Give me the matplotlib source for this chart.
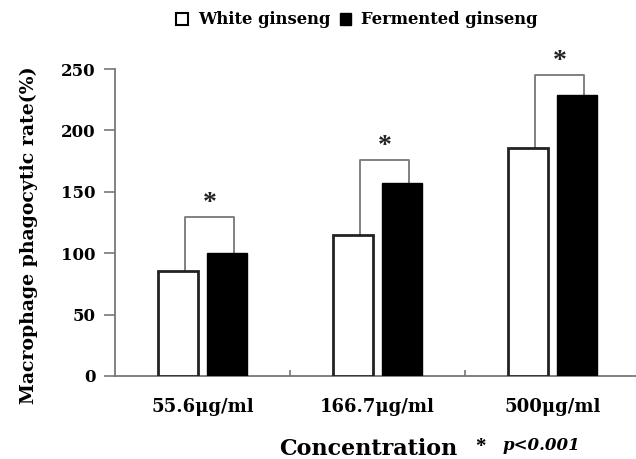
import matplotlib
matplotlib.use("Agg")
import matplotlib.pyplot as plt
from matplotlib.patches import Patch
import numpy as np

categories = ["55.6\u03bcg/ml", "166.7\u03bcg/ml", "500\u03bcg/ml"]
white = [85.7, 114.6, 185.4]
fermented = [100.4, 157.4, 228.8]
bracket_tops = [129.2, 175.9, 244.9]
series_names = ["White ginseng", "Fermented ginseng"]
yticks = [0, 50, 100, 150, 200, 250]

plt.rcParams['font.family'] = ['DejaVu Serif', 'Liberation Serif']
plt.rcParams['font.weight'] = 'bold'

fig = plt.figure(figsize=(6.36, 4.59), dpi=100)
ax = fig.add_axes([115/636, (459-376)/459, (636-115)/636, (376-69)/459])

x = np.arange(len(categories))
off = 0.142
w = 0.228
ax.bar(x - off, white, width=w, facecolor='white', edgecolor='#222222', linewidth=2.0, zorder=3)
ax.bar(x + off, fermented, width=w, facecolor='black', edgecolor='black', linewidth=1.0, zorder=3)

bo = 0.04
for i in range(len(categories)):
    xl = x[i] - off + bo
    xr = x[i] + off + bo
    ax.plot([xl, xl, xr, xr], [white[i], bracket_tops[i], bracket_tops[i], fermented[i]],
            color='#777777', linewidth=1.3, zorder=2, clip_on=False)
    ax.text(x[i] + bo, bracket_tops[i] + 1, '*', ha='center', va='bottom',
            fontsize=20, fontweight='bold', color='#222222', family='Liberation Serif')

ax.set_xlim(-0.5, 2.5 - 4/175)
ax.set_ylim(0, 250)
ax.set_yticks(yticks)
ax.set_yticklabels([str(v) for v in yticks], fontsize=12, fontweight='bold')
ax.set_xticks(x)
ax.set_xticklabels(categories, fontsize=13, fontweight='bold')
ax.set_xticks([0.5, 1.5], minor=True)
ax.tick_params(axis='x', which='major', length=0, pad=16)
ax.tick_params(axis='x', which='minor', direction='in', length=4, color='#777777', width=1.2)
ax.tick_params(axis='y', direction='out', length=8, color='#777777', width=1.2, pad=6)

for s in ['top', 'right']:
    ax.spines[s].set_visible(False)
for s in ['left', 'bottom']:
    ax.spines[s].set_color('#777777')
    ax.spines[s].set_linewidth(1.3)

ax.set_ylabel("Macrophage phagocytic rate(%)", fontsize=13.6, fontweight='bold')
ax.yaxis.set_label_coords(-0.148, 0.459)

handles = [Patch(facecolor='white', edgecolor='black', linewidth=1.5),
           Patch(facecolor='black', edgecolor='black')]
fig.legend(handles, series_names, loc='center', bbox_to_anchor=(357/636, 1 - 20/459),
           ncol=2, frameon=False, handlelength=0.7, handleheight=0.7, handletextpad=0.6,
           columnspacing=0.6, prop={'size': 11.8, 'weight': 'bold'})

fig.text(368/636, 1 - 449/459, "Concentration", ha='center', va='center',
         fontsize=16, fontweight='bold')
fig.text(480/636, 1 - 447/459, "*", ha='center', va='center', fontsize=15, fontweight='bold',
         family='Liberation Serif')
fig.text(503/636, 1 - 446/459, "p<0.001", ha='left', va='center', fontsize=12,
         fontweight='bold', style='italic')

fig.savefig("out.png", dpi=100)
